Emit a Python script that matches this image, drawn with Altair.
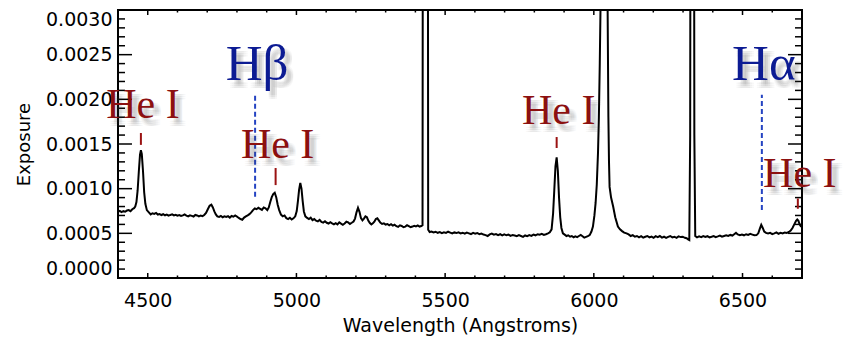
import altair as alt
import pandas as pd

# Spectrum samples: (wavelength in Angstroms, exposure in units of 1e-6)
SPECTRUM = [
    (4400, 742), (4406, 752), (4412, 738), (4418, 748), (4424, 742), (4430, 755),
    (4436, 760), (4442, 748), (4448, 770), (4454, 782), (4458, 800), (4462, 850),
    (4466, 980), (4470, 1190), (4474, 1380), (4477, 1430), (4480, 1390), (4484, 1200),
    (4488, 960), (4492, 830), (4497, 760), (4503, 738),
    (4510, 712), (4516, 725), (4522, 718), (4528, 728), (4534, 710), (4540, 716),
    (4546, 705), (4552, 714), (4558, 702), (4564, 710), (4570, 698), (4576, 706),
    (4582, 712), (4588, 700), (4594, 708), (4600, 697), (4606, 704), (4612, 694),
    (4618, 701), (4624, 712), (4630, 698), (4636, 690), (4642, 702), (4648, 695),
    (4654, 688), (4660, 706), (4666, 700), (4672, 690), (4678, 698), (4684, 692),
    (4690, 705), (4696, 728), (4702, 770), (4708, 808), (4714, 820), (4719, 790),
    (4724, 745), (4729, 712), (4734, 690),
    (4740, 684), (4746, 695), (4752, 680), (4758, 690), (4764, 683), (4770, 692),
    (4776, 676), (4782, 694), (4788, 686), (4794, 700), (4800, 688), (4806, 672),
    (4812, 660), (4818, 652), (4824, 676), (4830, 690), (4836, 702), (4842, 715),
    (4848, 734), (4854, 760), (4860, 778), (4866, 770), (4872, 786), (4878, 774),
    (4884, 762), (4890, 790), (4896, 780), (4902, 760), (4907, 790), (4912, 850),
    (4917, 905), (4922, 940), (4927, 955), (4932, 905), (4937, 820), (4942, 760),
    (4948, 710), (4954, 690), (4960, 700), (4966, 670), (4972, 660), (4978, 675),
    (4984, 655), (4990, 668), (4996, 690), (5001, 750), (5005, 860), (5009, 990),
    (5013, 1065), (5017, 1000), (5021, 860), (5025, 745), (5030, 690), (5036, 672),
    (5042, 660), (5048, 675), (5054, 648), (5060, 660), (5066, 642), (5072, 634),
    (5078, 650), (5084, 628), (5090, 620), (5096, 635), (5102, 618), (5108, 610),
    (5114, 625), (5120, 612), (5126, 600), (5132, 614), (5138, 600), (5144, 622),
    (5150, 608), (5156, 596), (5162, 610), (5168, 630), (5174, 622), (5180, 605),
    (5186, 618), (5192, 632), (5197, 665), (5202, 735), (5207, 785), (5212, 740),
    (5217, 670), (5222, 645), (5227, 665), (5232, 690), (5237, 680), (5242, 640),
    (5247, 615), (5252, 600), (5257, 612), (5262, 630), (5267, 660), (5272, 668),
    (5277, 645), (5282, 620), (5288, 605), (5294, 612), (5300, 598), (5306, 604),
    (5312, 590), (5318, 602), (5324, 586), (5330, 596), (5336, 580), (5342, 572),
    (5348, 590), (5354, 582), (5360, 568), (5366, 575), (5372, 590), (5378, 580),
    (5384, 568), (5390, 576), (5396, 585), (5402, 578), (5408, 588), (5414, 576),
    (5420, 582), (5424, 590), (5426, 8000), (5441, 8000), (5443, 540), (5448, 515),
    (5454, 520), (5461, 510), (5468, 518), (5475, 506), (5482, 514), (5489, 502),
    (5496, 512), (5503, 505), (5510, 518), (5517, 508), (5524, 498), (5531, 510),
    (5538, 503), (5545, 512), (5552, 500), (5559, 507), (5566, 496), (5573, 508),
    (5580, 500), (5587, 492), (5594, 505), (5601, 496), (5608, 504), (5615, 490),
    (5622, 498), (5629, 486), (5636, 480), (5643, 470), (5650, 488), (5657, 498),
    (5664, 485), (5671, 492), (5678, 480), (5685, 490), (5692, 476), (5699, 488),
    (5706, 478), (5713, 486), (5720, 472), (5727, 482), (5734, 476), (5741, 468),
    (5748, 480), (5755, 470), (5762, 460), (5769, 476), (5776, 468), (5783, 480),
    (5790, 472), (5797, 486), (5804, 478), (5811, 490), (5818, 484), (5825, 494),
    (5832, 482), (5839, 490), (5846, 500), (5852, 512), (5858, 545), (5863, 720),
    (5867, 980), (5871, 1250), (5875, 1350), (5879, 1200), (5883, 900), (5887, 680),
    (5891, 560), (5896, 500),
    (5902, 485), (5908, 470), (5914, 478), (5920, 462), (5926, 470), (5932, 456),
    (5938, 466), (5944, 458), (5950, 470), (5956, 482), (5962, 468), (5968, 452),
    (5974, 460), (5980, 468), (5986, 480), (5992, 520), (5997, 575), (6002, 700),
    (6006, 840), (6010, 1050), (6014, 1400), (6017, 1800), (6020, 2400), (6024, 3400),
    (6028, 8000), (6042, 8000), (6046, 3200), (6049, 1800), (6051, 1300), (6053, 1020),
    (6058, 900), (6065, 800), (6072, 680), (6081, 575), (6088, 545), (6095, 525),
    (6102, 508), (6110, 500), (6117, 488), (6124, 470), (6131, 480), (6138, 462),
    (6145, 470), (6152, 456), (6159, 468), (6166, 452), (6173, 462), (6180, 470),
    (6187, 455), (6194, 464), (6201, 450), (6208, 468), (6215, 458), (6222, 470),
    (6229, 452), (6236, 462), (6243, 448), (6250, 460), (6257, 470), (6264, 455),
    (6271, 462), (6278, 450), (6285, 466), (6292, 458), (6299, 462), (6306, 450),
    (6312, 445), (6317, 432), (6321, 425), (6324, 1600), (6326, 8000), (6336, 8000),
    (6338, 1600), (6341, 470),
    (6347, 455), (6354, 466), (6361, 458), (6368, 470), (6375, 460), (6382, 468),
    (6389, 455), (6396, 462), (6403, 470), (6410, 458), (6417, 466), (6424, 475),
    (6431, 462), (6438, 470), (6445, 478), (6452, 470), (6459, 482), (6466, 475),
    (6472, 490), (6478, 505), (6484, 488), (6491, 480), (6498, 486), (6505, 478),
    (6512, 490), (6519, 482), (6526, 494), (6533, 486), (6540, 478), (6547, 480),
    (6553, 500), (6558, 550), (6563, 595), (6568, 560), (6573, 520), (6579, 505),
    (6586, 498), (6593, 505), (6600, 492), (6607, 500), (6614, 510), (6621, 495),
    (6628, 505), (6635, 498), (6642, 510), (6649, 505), (6656, 515), (6662, 530),
    (6668, 560), (6674, 600), (6680, 640), (6684, 655), (6688, 640), (6692, 600),
    (6696, 580), (6700, 572),
]

# He I line markers: wavelength, marker bottom/top and label baseline (1e-6 units)
HEI_WAVE = [4477, 4930, 5875, 6686]
HEI_MARK_LO = [1490, 1040, 1455, 775]
HEI_MARK_HI = [1623, 1231, 1578, 890]
HEI_LABEL_Y = [1791, 1340, 1724, 1015]

# Balmer lines: wavelength, dashed guide extent and label baseline (1e-6 units)
BALMER_NAME = ["H\u03b2", "H\u03b1"]
BALMER_WAVE = [4861, 6565]
BALMER_LO = [910, 760]
BALMER_HI = [2060, 2050]
BALMER_LABEL_Y = [2216, 2216]

X_DOMAIN = [4400, 6700]
Y_DOMAIN = [0.0, 0.003]
X_LABELS = [4500, 5000, 5500, 6000, 6500]
Y_LABELS = [0.0, 0.0005, 0.001, 0.0015, 0.002, 0.0025, 0.003]

E6 = 1e-6
AXIS_FONT = "DejaVu Sans"
SERIF = "Liberation Serif"
RED = "#8c1010"
NAVY = "#0c1b93"
DASH_BLUE = "#2443c2"

spec = pd.DataFrame(SPECTRUM, columns=["wave", "expo"])
spec["expo"] = spec["expo"] * E6

# Inward-pointing frame ticks on all four sides
x_len_major, x_len_minor = 0.000056, 0.000028   # tick length along the y scale
y_len_major, y_len_minor = 47.0, 23.5           # tick length along the x scale
tick_rows = []
for w in range(4500, 6700, 100):
    L = x_len_major if w % 500 == 0 else x_len_minor
    tick_rows.append(dict(x=w, x2=w, y=Y_DOMAIN[0], y2=Y_DOMAIN[0] + L))
    tick_rows.append(dict(x=w, x2=w, y=Y_DOMAIN[1], y2=Y_DOMAIN[1] - L))
for k in range(1, 30):
    v = k * 0.0001
    L = y_len_major if k % 5 == 0 else y_len_minor
    tick_rows.append(dict(x=X_DOMAIN[0], x2=X_DOMAIN[0] + L, y=v, y2=v))
    tick_rows.append(dict(x=X_DOMAIN[1], x2=X_DOMAIN[1] - L, y=v, y2=v))
ticks = pd.DataFrame(tick_rows)

hei = pd.DataFrame({
    "wave": HEI_WAVE,
    "lo": [v * E6 for v in HEI_MARK_LO],
    "hi": [v * E6 for v in HEI_MARK_HI],
})
balmer = pd.DataFrame({
    "wave": BALMER_WAVE,
    "lo": [v * E6 for v in BALMER_LO],
    "hi": [v * E6 for v in BALMER_HI],
})
labels = pd.DataFrame({
    "wave": HEI_WAVE + BALMER_WAVE,
    "level": [v * E6 for v in HEI_LABEL_Y + BALMER_LABEL_Y],
    "text": ["He I"] * len(HEI_WAVE) + BALMER_NAME,
    "color": [RED] * len(HEI_WAVE) + [NAVY] * len(BALMER_WAVE),
    "size": [42] * len(HEI_WAVE) + [51] * len(BALMER_WAVE),
})

xs = alt.Scale(domain=X_DOMAIN, nice=False, zero=False)
ys = alt.Scale(domain=Y_DOMAIN, nice=False, zero=False)

x_axis = alt.Axis(
    values=X_LABELS, format="d", ticks=False, tickSize=0, domain=False, grid=False,
    labelFont=AXIS_FONT, labelFontSize=19, labelColor="black", labelPadding=13,
    title="Wavelength (Angstroms)", titleFont=AXIS_FONT, titleFontSize=19,
    titleFontWeight="normal", titleColor="black", titlePadding=6,
)
y_axis = alt.Axis(
    values=Y_LABELS, format=".4f", ticks=False, tickSize=0, domain=False, grid=False,
    labelFlush=True, labelFont=AXIS_FONT, labelFontSize=19, labelColor="black",
    labelPadding=6, title="Exposure", titleFont=AXIS_FONT, titleFontSize=18,
    titleFontWeight="normal", titleColor="black", titlePadding=12,
)

line = alt.Chart(spec).mark_line(color="black", strokeWidth=2, clip=True).encode(
    x=alt.X("wave:Q", scale=xs, axis=x_axis),
    y=alt.Y("expo:Q", scale=ys, axis=y_axis),
)

frame_ticks = alt.Chart(ticks).mark_rule(color="black", strokeWidth=1.5).encode(
    x=alt.X("x:Q", scale=xs), x2="x2:Q",
    y=alt.Y("y:Q", scale=ys), y2="y2:Q",
)

hei_marks = alt.Chart(hei).mark_rule(color="#9a1212", strokeWidth=2).encode(
    x=alt.X("wave:Q", scale=xs), y=alt.Y("lo:Q", scale=ys), y2="hi:Q",
)

balmer_guides = alt.Chart(balmer).mark_rule(
    color=DASH_BLUE, strokeWidth=2, strokeDash=[5, 3]
).encode(
    x=alt.X("wave:Q", scale=xs), y=alt.Y("lo:Q", scale=ys), y2="hi:Q",
)

# Soft drop shadow under the line names, built from faint offset copies
shadow_layers = []
for sdx in (3, 5, 7):
    for sdy in (4, 6, 8):
        shadow_layers.append(
            alt.Chart(labels).mark_text(
                font=SERIF, align="center", baseline="alphabetic",
                dx=2 + sdx, dy=sdy, color="#444444", opacity=0.035,
            ).encode(
                x=alt.X("wave:Q", scale=xs), y=alt.Y("level:Q", scale=ys),
                text="text:N", size=alt.Size("size:Q", scale=None),
            )
        )

names = alt.Chart(labels).mark_text(
    font=SERIF, align="center", baseline="alphabetic", dx=2,
).encode(
    x=alt.X("wave:Q", scale=xs), y=alt.Y("level:Q", scale=ys),
    text="text:N",
    color=alt.Color("color:N", scale=None),
    size=alt.Size("size:Q", scale=None),
)

chart = alt.layer(
    line, frame_ticks, balmer_guides, hei_marks, *shadow_layers, names
).properties(
    width=684, height=268,
    autosize=alt.AutoSizeParams(type="none"),
    padding={"left": 118, "top": 10, "right": 43, "bottom": 62},
    background="white",
).configure_view(stroke="black", strokeWidth=2)

chart.save("out.html", embed_options={"renderer": "svg", "actions": False})
